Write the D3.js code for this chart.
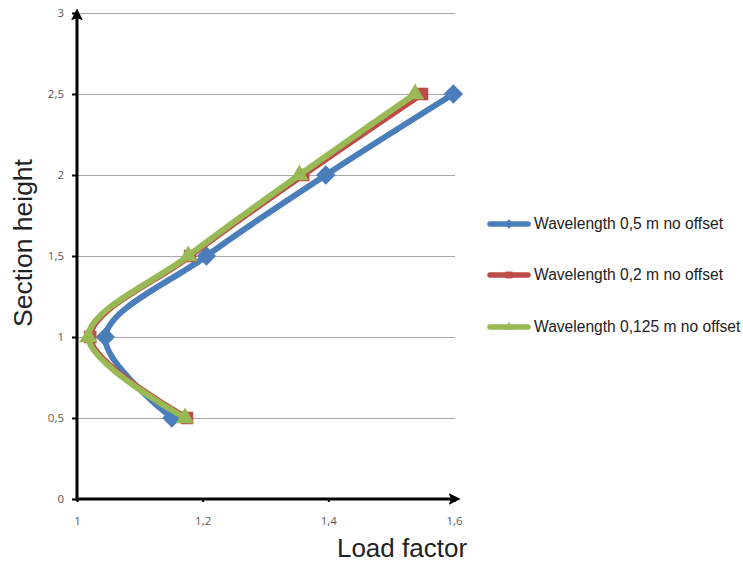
<!DOCTYPE html>
<html>
<head>
<meta charset="utf-8">
<script src="https://cdn.jsdelivr.net/npm/d3@7"></script>
<style>
  body { margin: 0; background: #fff; }
  .tick text { font-family: "Open Sans", sans-serif; font-size: 11.5px; fill: #595959; }
  .label { font-family: "Liberation Sans", Arial, sans-serif; fill: #222; }
  .legend text { font-family: "Liberation Sans", Arial, sans-serif; font-size: 15.6px; fill: #222; }
</style>
</head>
<body>
<div class="chart"></div>
<script>
// data
var heights = [0.5, 1, 1.5, 2, 2.5];
var seriesNames = [
  "Wavelength 0,5 m no offset",
  "Wavelength 0,2 m no offset",
  "Wavelength 0,125 m no offset"
];
var blueValues = [1.151, 1.045, 1.206, 1.396, 1.599];
var redValues = [1.175, 1.021, 1.180, 1.360, 1.549];
var greenValues = [1.172, 1.018, 1.177, 1.354, 1.538];
var xTicks = [1, 1.2, 1.4, 1.6];
var yTicks = [0, 0.5, 1, 1.5, 2, 2.5, 3];

var colors = ["#4a7ebb", "#be4b48", "#98b954"];
var symbols = [d3.symbolDiamond2, d3.symbolSquare2, d3.symbolTriangle2];

var series = [blueValues, redValues, greenValues].map(function(vals, i) {
  return {
    name: seriesNames[i],
    color: colors[i],
    symbol: symbols[i],
    points: vals.map(function(v, j) { return {x: v, y: heights[j]}; })
  };
});

// dimensions
var W = 743, H = 563;
var margin = {top: 13, right: 289, bottom: 64, left: 77};
var width = W - margin.left - margin.right;
var height = H - margin.top - margin.bottom;

var comma = d3.formatLocale({decimal: ",", thousands: ".", grouping: [3], currency: ["", ""]});
var fmt = function(d) { return comma.format("")(+d.toFixed(2)); };

var x = d3.scaleLinear().domain([1, 1.6]).range([0, width]);
var y = d3.scaleLinear().domain([0, 3]).range([height, 0]);

var svg = d3.select(".chart")
  .append("svg")
  .attr("width", W)
  .attr("height", H);

var defs = svg.append("defs");
defs.append("marker")
  .attr("id", "arrow")
  .attr("viewBox", "0 0 10 10")
  .attr("refX", 7)
  .attr("refY", 5)
  .attr("markerWidth", 4)
  .attr("markerHeight", 4)
  .attr("markerUnits", "strokeWidth")
  .attr("orient", "auto")
  .append("path")
  .attr("d", "M0,0 L10,5 L0,10 L2,5 Z")
  .attr("fill", "#000");

var chart = svg.append("g")
  .attr("transform", "translate(" + margin.left + "," + margin.top + ")");

// gridlines
chart.selectAll(".grid")
  .data(yTicks.filter(function(d) { return d > 0; }))
  .enter()
  .append("line")
  .attr("x1", 0)
  .attr("x2", width + 1)
  .attr("y1", function(d) { return Math.round(y(d)) + 0.5; })
  .attr("y2", function(d) { return Math.round(y(d)) + 0.5; })
  .attr("stroke", "#a6a6a6")
  .attr("stroke-width", 1.2);

// y axis
var yAxis = chart.append("g")
  .call(d3.axisLeft(y).tickValues(yTicks).tickFormat(fmt).tickSize(5).tickPadding(8));
yAxis.select(".domain").remove();
yAxis.selectAll(".tick line").attr("stroke", "#000").attr("stroke-width", 2);

// x axis
var xAxis = chart.append("g")
  .attr("transform", "translate(0," + height + ")")
  .call(d3.axisBottom(x).tickValues(xTicks).tickFormat(fmt).tickSize(3).tickPadding(15));
xAxis.select(".domain").remove();
xAxis.selectAll(".tick line").attr("stroke", "#000").attr("stroke-width", 2);

// axis lines with arrows
chart.append("line")
  .attr("x1", 0).attr("y1", height + 1.5)
  .attr("x2", 0).attr("y2", -1)
  .attr("stroke", "#000")
  .attr("stroke-width", 3)
  .attr("marker-end", "url(#arrow)");
chart.append("line")
  .attr("x1", -1.5).attr("y1", height)
  .attr("x2", width + 3).attr("y2", height)
  .attr("stroke", "#000")
  .attr("stroke-width", 3)
  .attr("marker-end", "url(#arrow)");

// lines
var line = d3.line()
  .x(function(d) { return x(d.x); })
  .y(function(d) { return y(d.y); })
  .curve(d3.curveCatmullRom.alpha(0.5));

series.forEach(function(s) {
  chart.append("path")
    .datum(s.points)
    .attr("fill", "none")
    .attr("stroke", s.color)
    .attr("stroke-width", 6)
    .attr("stroke-linejoin", "round")
    .attr("stroke-linecap", "round")
    .attr("d", line);

  chart.selectAll(null)
    .data(s.points)
    .enter()
    .append("path")
    .attr("transform", function(d) { return "translate(" + x(d.x) + "," + y(d.y) + ")"; })
    .attr("d", d3.symbol().type(s.symbol).size(s.symbol === d3.symbolSquare2 ? 200 : 240))
    .attr("fill", s.color);
});

// axis labels
svg.append("text")
  .attr("class", "label")
  .attr("x", 402)
  .attr("y", 557)
  .attr("text-anchor", "middle")
  .style("font-size", "26px")
  .text("Load factor");

svg.append("text")
  .attr("class", "label")
  .attr("transform", "translate(32,243) rotate(-90)")
  .attr("text-anchor", "middle")
  .style("font-size", "26.5px")
  .text("Section height");

// legend
var legendY = [224, 275, 327];
var legend = svg.append("g").attr("class", "legend");
series.forEach(function(s, i) {
  var g = legend.append("g").attr("transform", "translate(0," + legendY[i] + ")");
  g.append("line")
    .attr("x1", 490).attr("x2", 528)
    .attr("y1", 0).attr("y2", 0)
    .attr("stroke", s.color)
    .attr("stroke-width", 5.5)
    .attr("stroke-linecap", "round");
  g.append("path")
    .attr("transform", "translate(509,0)")
    .attr("d", d3.symbol().type(s.symbol).size(60))
    .attr("fill", s.color);
  g.append("text")
    .attr("x", 534)
    .attr("y", 5)
    .text(s.name);
});
</script>
</body>
</html>
